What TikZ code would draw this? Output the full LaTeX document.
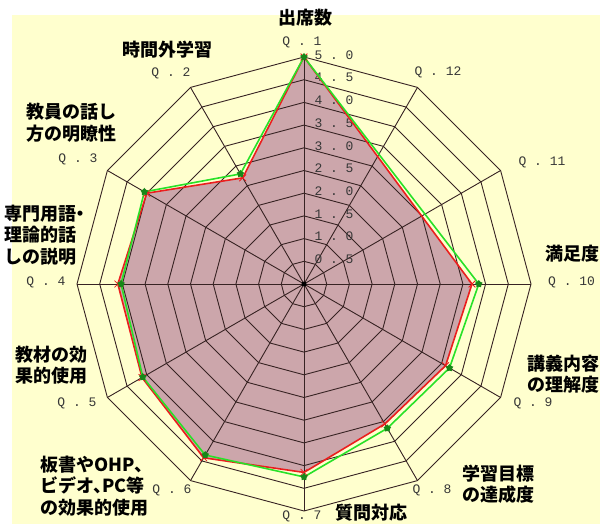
\documentclass[tikz,border=0pt]{standalone}
\usepackage{fontspec}
\usepackage{tikz}
\usetikzlibrary{shapes.geometric,shapes.misc}
\setmonofont{Liberation Mono}
\newfontfamily\jpfont{Noto Sans CJK JP}[RawFeature=+halt]
\definecolor{chartbg}{RGB}{255,255,206}
\definecolor{chartfill}{RGB}{204,166,171}
\definecolor{gridline}{RGB}{55,35,35}
\definecolor{seriesred}{RGB}{235,30,30}
\definecolor{seriesgreen}{RGB}{40,225,40}
\definecolor{ticktext}{RGB}{55,55,55}
\tikzstyle{gridstyle} = [draw=gridline, line width=0.9pt]
\tikzstyle{qlabel} = [font=\ttfamily\fontsize{13}{13}\selectfont, text=ticktext, inner sep=0pt]
\tikzstyle{itemlabel} = [font=\jpfont\bfseries\fontsize{18}{21.5}\selectfont, align=left, inner sep=0pt, anchor=west]
\tikzstyle{gmark} = [star, star points=5, fill=seriesgreen!60!black, inner sep=0pt, minimum size=8pt]
\tikzstyle{rmark} = [cross out, draw=seriesred, thick, inner sep=0pt, minimum size=6pt]
\def\ru{45.4}

\begin{document}
\begin{tikzpicture}[x=1pt, y=-1pt]
    \useasboundingbox (0,0) rectangle (600,524);
    % Background
    \fill[white] (0,0) rectangle (600,524);
    \fill[chartbg] (12,15) rectangle (600,524);

    \begin{scope}[shift={(304,284)}]
        % Area of the red series
        \fill[chartfill] (-90:{5*\ru}) \foreach \v [count=\i] in {2.7,4.0,4.1,4.12,4.42,4.15,3.56,3.6,3.7} { -- ({-90-30*\i}:{\v*\ru}) } -- cycle;

        % Grid
        \foreach \n in {1,...,10}
            \draw[gridstyle] (-90:{\n*\ru/2}) \foreach \k in {1,...,11} { -- ({-90-30*\k}:{\n*\ru/2}) } -- cycle;
        \foreach \k in {0,...,11}
            \draw[gridstyle] (0,0) -- ({-90-30*\k}:{5*\ru});
        \fill[black] (0,0) circle (2.5);

        % Scale values
        \foreach \v/\t in {1/0 . 5,2/1 . 0,3/1 . 5,4/2 . 0,5/2 . 5,6/3 . 0,7/3 . 5,8/4 . 0,9/4 . 5,10/5 . 0}
            \node[qlabel] (s\v) at (30, {-\v*\ru/2-2}) {\t};

        % Series
        \draw[seriesred, line width=1.6pt, line join=round] (-90:{5*\ru}) \foreach \v [count=\i] in {2.7,4.0,4.1,4.12,4.42,4.15,3.56,3.6,3.7} { -- ({-90-30*\i}:{\v*\ru}) } -- cycle;
        \draw[seriesgreen, line width=1.6pt, line join=round] (-90:{5*\ru}) \foreach \v [count=\i] in {2.8,4.06,4.03,4.1,4.35,4.25,3.67,3.7,3.85} { -- ({-90-30*\i}:{\v*\ru}) } -- cycle;
        \foreach \v [count=\i from 0] in {5.0,2.7,4.0,4.1,4.12,4.42,4.15,3.56,3.6,3.7}
            \node[rmark] (r\i) at ({-90-30*\i}:{\v*\ru}) {};
        \foreach \v [count=\i from 0] in {5.0,2.8,4.06,4.03,4.1,4.35,4.25,3.67,3.7,3.85}
            \node[gmark] (g\i) at ({-90-30*\i}:{\v*\ru}) {};
    \end{scope}

    % Question numbers
    \node[qlabel] (q1) at (302,42) {Q . 1};
    \node[qlabel] (q2) at (171,73) {Q . 2};
    \node[qlabel] (q3) at (78,159) {Q . 3};
    \node[qlabel] (q4) at (46,282) {Q . 4};
    \node[qlabel] (q5) at (77,403) {Q . 5};
    \node[qlabel] (q6) at (172,490) {Q . 6};
    \node[qlabel] (q7) at (302,516) {Q . 7};
    \node[qlabel] (q8) at (432,490) {Q . 8};
    \node[qlabel] (q9) at (533,403) {Q . 9};
    \node[qlabel, anchor=west] (q10) at (548,282) {Q . 10};
    \node[qlabel] (q11) at (542,162) {Q . 11};
    \node[qlabel] (q12) at (438,72) {Q . 12};

    % Item names
    \node[itemlabel, anchor=center] (attend) at (305,18) {出席数};
    \node[itemlabel, anchor=center] (extra) at (167,50) {時間外学習};
    \node[itemlabel] (clarity) at (26,122.5) {教員の話し\\方の明瞭性};
    \node[itemlabel] (terms) at (4,235) {専門用語・\\理論的話\\しの説明};
    \node[itemlabel] (material) at (15,365) {教材の効\\果的使用};
    \node[itemlabel] (media) at (40,486) {板書やOHP、\\ビデオ、PC等\\の効果的使用};
    \node[itemlabel] (question) at (335,513) {質問対応};
    \node[itemlabel] (goal) at (462,484) {学習目標\\の達成度};
    \node[itemlabel] (understand) at (527,374) {講義内容\\の理解度};
    \node[itemlabel] (satisfy) at (545,254) {満足度};
\end{tikzpicture}
\end{document}
